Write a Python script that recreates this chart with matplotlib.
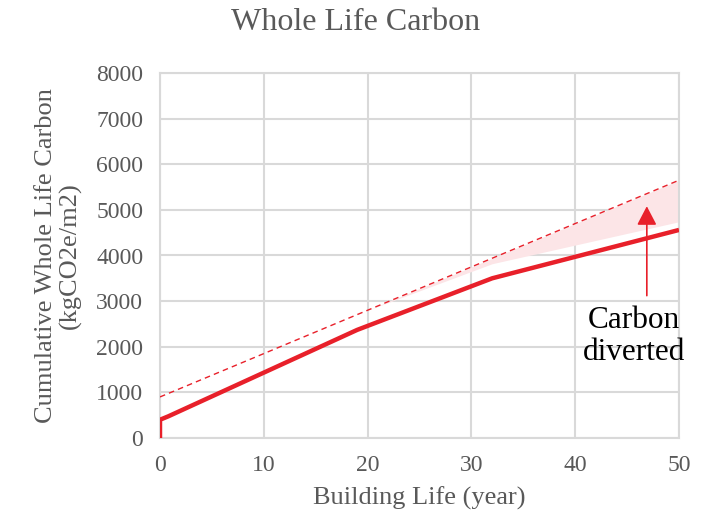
import numpy as np
import matplotlib
matplotlib.use("Agg")
import matplotlib.pyplot as plt

plt.rcParams['font.family'] = ['Liberation Serif', 'DejaVu Serif']

# Cumulative whole life carbon (kgCO2e/m2) over building life (years)
years_actual = [0, 0, 0.8, 19, 32, 50]
carbon_actual = [0, 400, 475, 2370, 3500, 4560]

years_baseline = [0, 50]
carbon_baseline = [900, 5650]

# Lower edge of the "carbon diverted" band
years_band = [20, 32, 50]
carbon_band_low = [2800, 3820, 4740]

x_ticks = [0, 10, 20, 30, 40, 50]
y_ticks = [0, 1000, 2000, 3000, 4000, 5000, 6000, 7000, 8000]

red = '#e8202a'
grey_text = '#595959'
grid_col = '#d9d9d9'

fig = plt.figure(figsize=(7.18, 5.18), dpi=100)
ax = fig.add_axes([160 / 718, 80 / 518, 519 / 718, 365 / 518])

band_x = np.array(years_band, dtype=float)
band_hi = np.interp(band_x, years_baseline, carbon_baseline)
ax.fill_between(band_x, carbon_band_low, band_hi, color='#fce5e7', lw=0, zorder=2)

ax.plot(years_baseline, carbon_baseline, color=red, lw=1.0, ls=(0, (4, 3)), zorder=3)
ax.plot(years_actual, carbon_actual, color=red, lw=3.2, solid_capstyle='butt',
        solid_joinstyle='round', zorder=4)

ax.annotate('', xy=(46.9, 5080), xytext=(46.9, 3120),
            arrowprops=dict(arrowstyle='-|>,head_length=1.15,head_width=0.6',
                            color=red, lw=1.2, mutation_scale=10,
                            shrinkA=0, shrinkB=0), zorder=5)
ax.text(45.7, 2230, 'Carbon\ndiverted', ha='center', va='center',
        fontsize=22.5, color='black', linespacing=1.15, zorder=5)

ax.set_xlim(0, 50)
ax.set_ylim(0, 8000)
ax.set_xticks(x_ticks)
ax.set_yticks(y_ticks)
ax.grid(True, color=grid_col, lw=1.5)
ax.set_axisbelow(True)
for s in ax.spines.values():
    s.set_color(grid_col)
    s.set_linewidth(1.5)
ax.tick_params(length=0, labelsize=17, colors=grey_text, pad=12)

ax.set_xlabel('Building Life (year)', fontsize=19, color=grey_text, labelpad=8)
ax.set_ylabel('Cumulative Whole Life Carbon\n(kgCO2e/m2)', fontsize=19,
              color=grey_text, linespacing=1.1, labelpad=10)
fig.text(356 / 718, 1 - 22 / 518, 'Whole Life Carbon', ha='center', va='center',
         fontsize=23, color=grey_text)

fig.savefig('out.png', dpi=100)
